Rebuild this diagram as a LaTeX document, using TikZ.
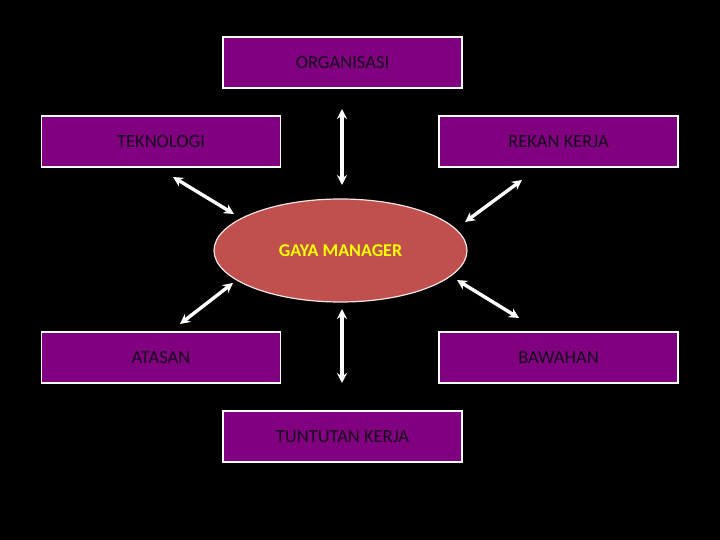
\documentclass[tikz,border=0pt]{standalone}
\usepackage{fontspec}
\setmainfont{Carlito}
\usepackage{tikz}
\usetikzlibrary{arrows.meta}
\usetikzlibrary{shapes.geometric}
\definecolor{boxpurple}{RGB}{128,0,128}
\definecolor{boxtext}{RGB}{22,0,26}
\definecolor{ovalred}{RGB}{192,80,77}
\definecolor{ovaltext}{RGB}{255,255,0}

\begin{document}
\begin{tikzpicture}[
    x=1pt, y=-1pt,
    box/.style={draw=white, line width=1.2pt, fill=boxpurple, minimum width=239pt, minimum height=51pt, align=center, text=boxtext, font=\fontsize{18.5}{22}\selectfont},
    oval/.style={ellipse, draw=white!85!ovalred, line width=1.2pt, fill=ovalred, minimum width=253pt, minimum height=103pt, text=ovaltext, font=\fontsize{18}{22}\selectfont\bfseries},
    arrow/.style={{Stealth[length=10pt,width=10pt]}-{Stealth[length=10pt,width=10pt]}, white, line width=3.4pt}
]
  % Background
  \fill[black] (0,0) rectangle (720,540);
  \useasboundingbox (0,0) rectangle (720,540);

  % Center
  \node[oval] (manager) at (340.5,250.5) {GAYA MANAGER};

  % Top row
  \node[box] (organisasi) at (342.5,62.5) {ORGANISASI};
  \node[box] (teknologi) at (161,141.5) {TEKNOLOGI};
  \node[box] (rekan) at (558.5,141.5) {REKAN KERJA};

  % Bottom row
  \node[box] (atasan) at (161,357.5) {ATASAN};
  \node[box] (bawahan) at (558.5,357.5) {BAWAHAN};
  \node[box] (tuntutan) at (342.5,436.5) {TUNTUTAN KERJA};

  % Arrow ends
  \coordinate (top1) at (342,109);
  \coordinate (top2) at (342,185);
  \coordinate (bot1) at (342,309);
  \coordinate (bot2) at (342,383);
  \coordinate (tek1) at (173,177);
  \coordinate (tek2) at (234,214);
  \coordinate (rek1) at (522,180);
  \coordinate (rek2) at (465,222);
  \coordinate (ata1) at (233,283);
  \coordinate (ata2) at (180,324);
  \coordinate (baw1) at (457,280);
  \coordinate (baw2) at (519,318);

  % Arrows
  \draw[arrow] (top1) -- (top2);
  \draw[arrow] (bot1) -- (bot2);
  \draw[arrow] (tek1) -- (tek2);
  \draw[arrow] (rek1) -- (rek2);
  \draw[arrow] (ata1) -- (ata2);
  \draw[arrow] (baw1) -- (baw2);

\end{tikzpicture}
\end{document}
